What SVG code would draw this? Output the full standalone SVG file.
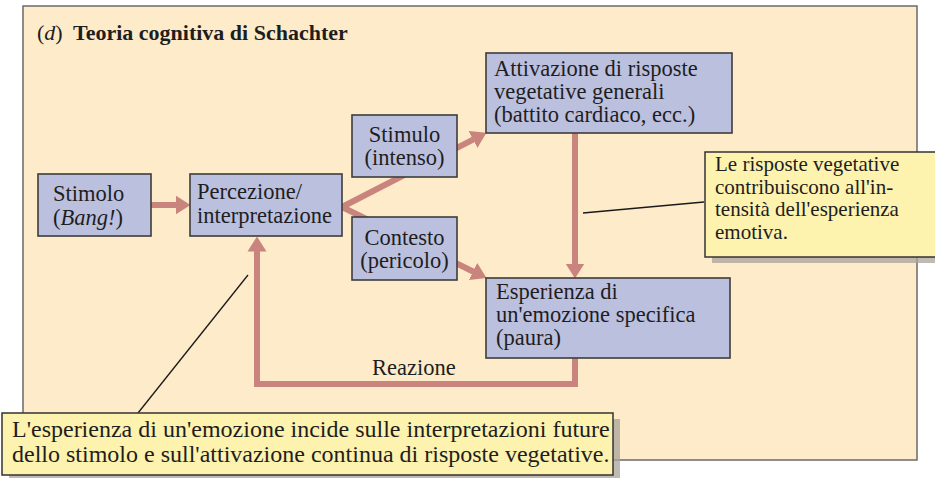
<svg xmlns="http://www.w3.org/2000/svg" width="935" height="478" viewBox="0 0 935 478">
<defs>
<style>
.frame{fill:#fdebc9;stroke:#6a6a6a;stroke-width:1.5}
.box{fill:#bcc0df;stroke:#3c3c3c;stroke-width:1.6}
.call{fill:#fdf2ae;stroke:#333;stroke-width:1.5}
.shadow{fill:#a9a39a;opacity:0.75}
.arr{fill:none;stroke:#c9857d;stroke-width:6;stroke-linejoin:miter}
.lead{fill:none;stroke:#1a1a1a;stroke-width:1.3}
text{font-family:"Liberation Serif","Times New Roman",serif;fill:#1e1e1e}
.t{font-size:22.5px}
.c{font-size:24px}
.cr{font-size:21px}
.title{font-size:22px}
.mid{text-anchor:middle}
</style>
<marker id="ah" markerUnits="userSpaceOnUse" markerWidth="16" markerHeight="20" refX="0.5" refY="10" orient="auto">
<path d="M0,0.5 L15,10 L0,19.5 z" fill="#c9857d"/>
</marker>
</defs>
<rect class="frame" x="23" y="6" width="894" height="454"/>
<text class="title" x="37" y="40">(<tspan font-style="italic">d</tspan>)<tspan x="73" font-weight="bold">Teoria cognitiva di Schachter</tspan></text>
<g id="connectors">
<path class="arr" d="M151,205 L176,205" marker-end="url(#ah)"/>
<path class="arr" d="M342,207 L473.5,139.3" marker-end="url(#ah)"/>
<path class="arr" d="M342,207 L473.5,271.7" marker-end="url(#ah)"/>
<path class="arr" d="M575,133 L575,264" marker-end="url(#ah)"/>
<path class="arr" d="M575,358 L575,384 L257,384 L257,251" marker-end="url(#ah)"/>
<text class="t" x="372" y="375">Reazione</text>
<line class="lead" x1="704" y1="202" x2="583" y2="213"/>
<line class="lead" x1="248" y1="275" x2="138" y2="413"/>
</g>
<g id="n_stimolo">
<rect class="box" x="38" y="174" width="113" height="62"/>
<text class="t" x="53" y="201">Stimolo</text>
<text class="t" x="53" y="225">(<tspan font-style="italic">Bang!</tspan>)</text>
</g>
<g id="n_percezione">
<rect class="box" x="190" y="174" width="152" height="62"/>
<text class="t" x="197" y="199">Percezione/</text>
<text class="t" x="197" y="223">interpretazione</text>
</g>
<g id="n_intenso">
<rect class="box" x="352" y="115" width="105" height="62"/>
<text class="t mid" x="404.5" y="142">Stimulo</text>
<text class="t mid" x="404.5" y="165">(intenso)</text>
</g>
<g id="n_contesto">
<rect class="box" x="352" y="217" width="105" height="63"/>
<text class="t mid" x="404.5" y="245">Contesto</text>
<text class="t mid" x="404.5" y="268">(pericolo)</text>
</g>
<g id="n_attivazione">
<rect class="box" x="486" y="53" width="246" height="80"/>
<text class="t" x="494" y="76">Attivazione di risposte</text>
<text class="t" x="494" y="99">vegetative generali</text>
<text class="t" x="494" y="122">(battito cardiaco, ecc.)</text>
</g>
<g id="n_esperienza">
<rect class="box" x="486" y="278" width="244" height="80"/>
<text class="t" x="496" y="299">Esperienza di</text>
<text class="t" x="496" y="322">un'emozione specifica</text>
<text class="t" x="496" y="345">(paura)</text>
</g>
<g id="n_nota_destra">
<rect class="shadow" x="712" y="158" width="240" height="105"/>
<rect class="call" x="705" y="152" width="240" height="105"/>
<text class="cr" x="715" y="171">Le risposte vegetative</text>
<text class="cr" x="715" y="193.5">contribuiscono all'in-</text>
<text class="cr" x="715" y="216">tensità dell'esperienza</text>
<text class="cr" x="715" y="238.5">emotiva.</text>
</g>
<g id="n_nota_basso">
<rect class="shadow" x="9" y="419" width="611" height="62"/>
<rect class="call" x="2" y="413" width="611" height="62"/>
<text class="c" x="12" y="437">L'esperienza di un'emozione incide sulle interpretazioni future</text>
<text class="c" x="12" y="462">dello stimolo e sull'attivazione continua di risposte vegetative.</text>
</g>
</svg>
